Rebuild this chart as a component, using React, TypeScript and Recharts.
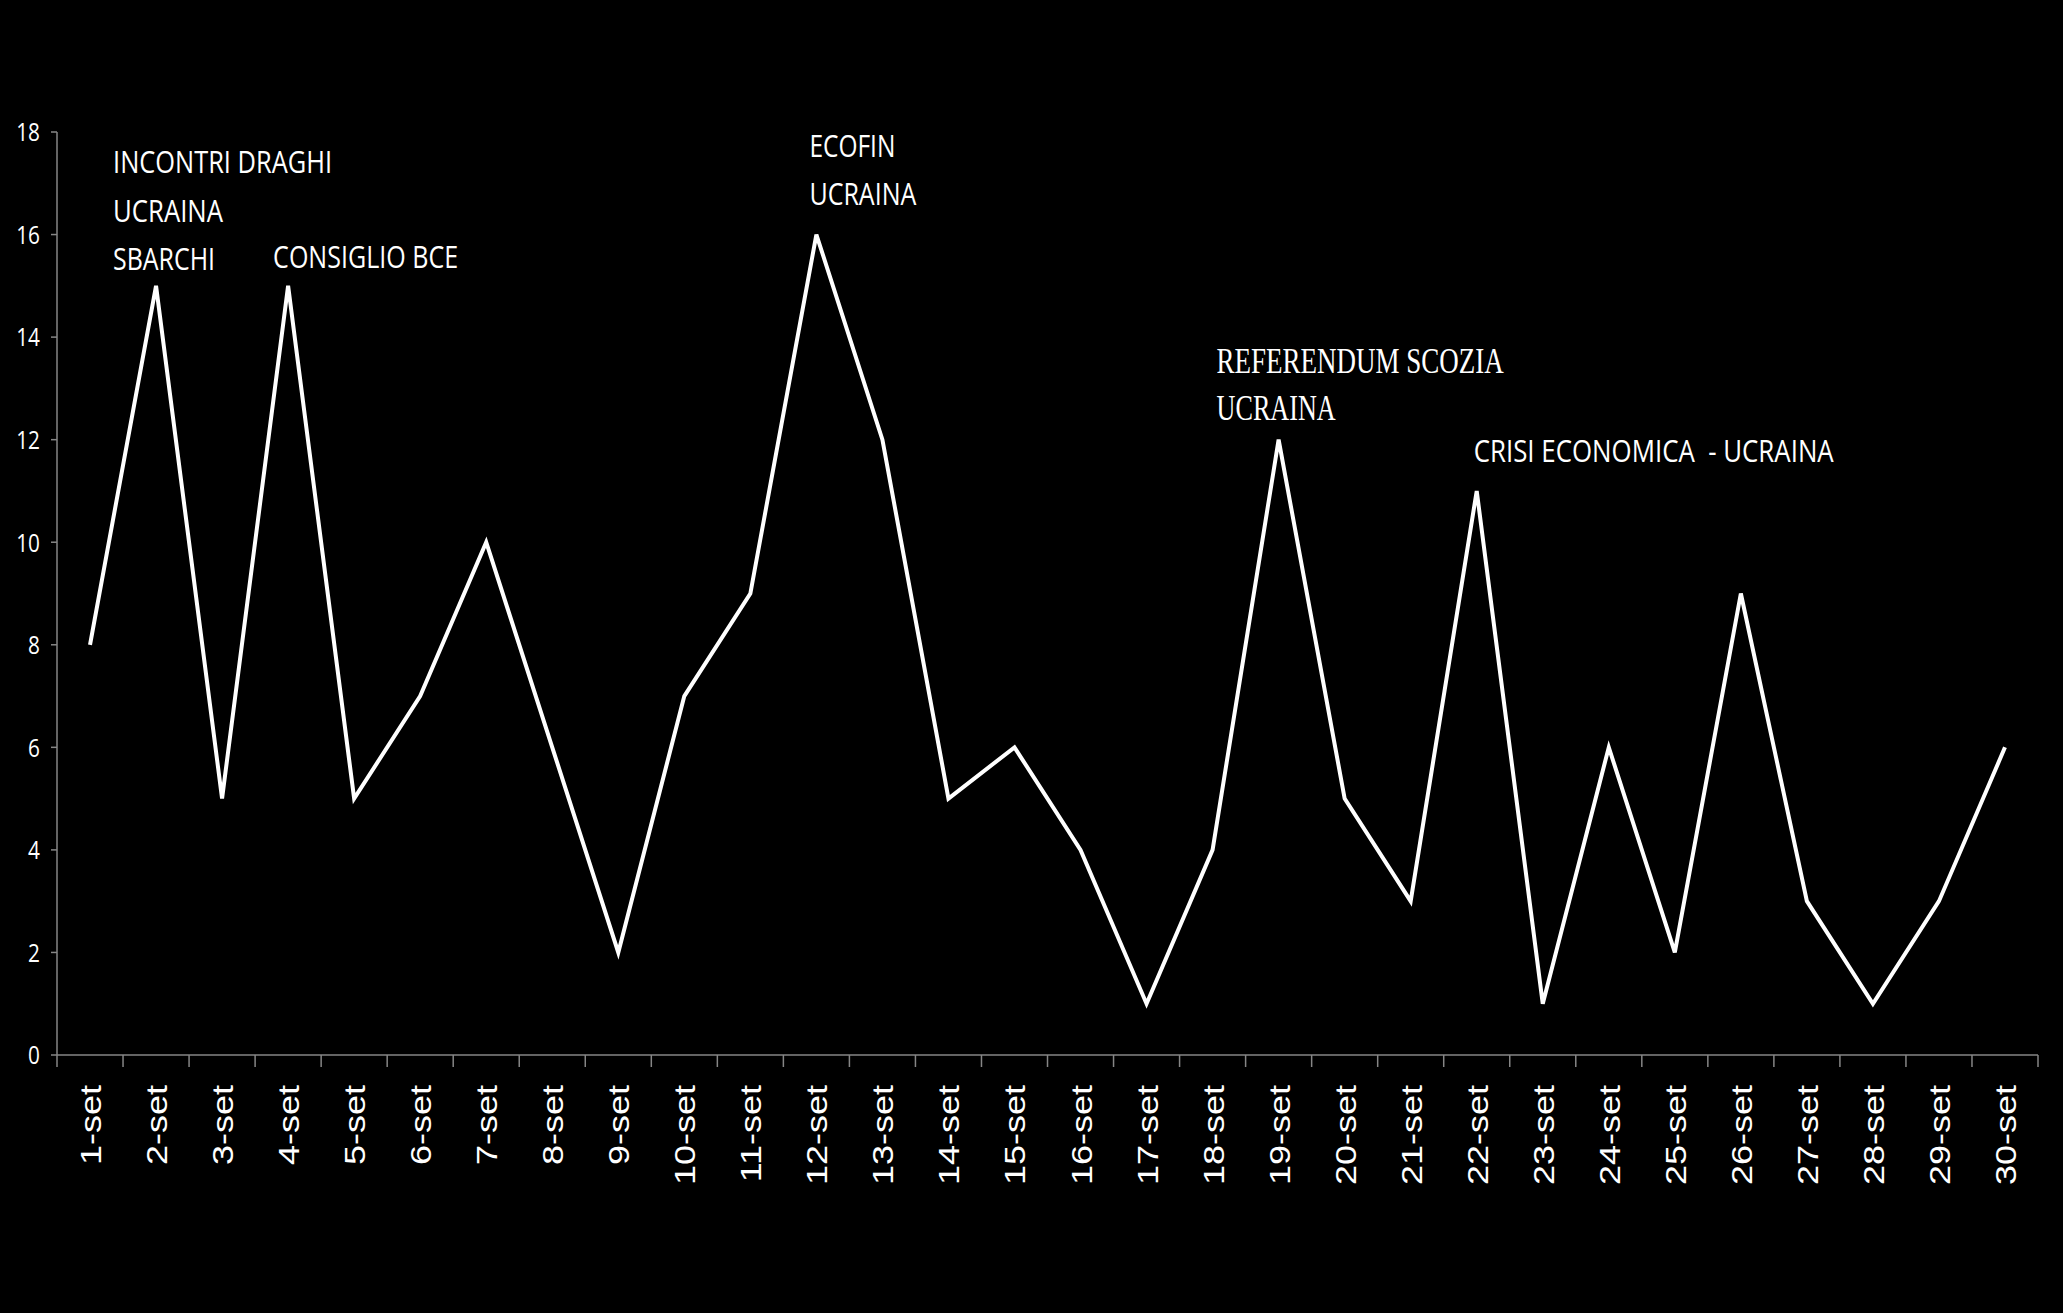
import { LineChart, Line, XAxis, YAxis, ReferenceDot } from "recharts";

const days = [
  "1-set", "2-set", "3-set", "4-set", "5-set", "6-set", "7-set", "8-set", "9-set", "10-set",
  "11-set", "12-set", "13-set", "14-set", "15-set", "16-set", "17-set", "18-set", "19-set", "20-set",
  "21-set", "22-set", "23-set", "24-set", "25-set", "26-set", "27-set", "28-set", "29-set", "30-set",
];
const values = [8, 15, 5, 15, 5, 7, 10, 6, 2, 7, 9, 16, 12, 5, 6, 4, 1, 4, 12, 5, 3, 11, 1, 6, 2, 9, 3, 1, 3, 6];
const yTicks = [0, 2, 4, 6, 8, 10, 12, 14, 16, 18];

const noteDays = ["2-set", "4-set", "12-set", "19-set", "22-set"];
const noteLines = [
  ["INCONTRI DRAGHI", "UCRAINA", "SBARCHI"],
  ["CONSIGLIO BCE"],
  ["ECOFIN", "UCRAINA"],
  ["REFERENDUM SCOZIA", "UCRAINA"],
  ["CRISI ECONOMICA  - UCRAINA"],
];

// layout of the notes relative to their point: dx, baseline dy per line, text widths
const noteLayout = [
  { dx: -43, dy: [-113, -64, -16], w: [219, 110, 102], serif: false },
  { dx: -15, dy: [-18], w: [185], serif: false },
  { dx: -7, dy: [-78, -30], w: [86, 107], serif: false },
  { dx: -62, dy: [-67, -20], w: [287, 119], serif: true },
  { dx: -3, dy: [-29], w: [360], serif: false },
];

const data = days.map((d, i) => ({ day: d, v: values[i] }));

const W = 2063;
const H = 1313;
const AXIS = "#868686";
const HALF = (2037.5 - 57) / days.length / 2;

function XTick(props: any) {
  const { x, y, payload, index } = props;
  const y0 = y - 8;
  return (
    <g>
      <line x1={x - HALF} x2={x - HALF} y1={y0} y2={y0 + 12} stroke={AXIS} strokeWidth={1.5} />
      {index === days.length - 1 && (
        <line x1={x + HALF} x2={x + HALF} y1={y0} y2={y0 + 12} stroke={AXIS} strokeWidth={1.5} />
      )}
      <text
        transform={`translate(${x + 11},${y0 + 30}) rotate(-90) scale(1.2,1)`}
        textAnchor="end"
        fill="#fff"
        fontFamily="'Liberation Sans', Arial, sans-serif"
        fontSize={30}
      >
        {payload.value}
      </text>
    </g>
  );
}

function YTick(props: any) {
  const { x, y, payload } = props;
  return (
    <text
      transform={`translate(${x},${y}) scale(0.8,1)`}
      textAnchor="end"
      dy="0.36em"
      fill="#fff"
      fontFamily="'Open Sans', sans-serif"
      fontSize={26}
    >
      {payload.value}
    </text>
  );
}

function noteLabel(k: number) {
  return (props: any) => {
    const vb = props.viewBox || {};
    const cx = vb.x + (vb.width || 0) / 2;
    const cy = vb.y + (vb.height || 0) / 2;
    const lay = noteLayout[k];
    return (
      <g>
        {noteLines[k].map((t, j) => (
          <text
            key={j}
            x={cx + lay.dx}
            y={cy + lay.dy[j]}
            fill="#fff"
            fontFamily={lay.serif ? "'Liberation Serif', serif" : "'Open Sans', sans-serif"}
            fontSize={lay.serif ? 36 : 31}
            textLength={lay.w[j]}
            lengthAdjust="spacingAndGlyphs"
            style={{ whiteSpace: "pre" }}
          >
            {t}
          </text>
        ))}
      </g>
    );
  };
}

export default function App() {
  return (
    <div style={{ position: "fixed", left: 0, top: 0, width: W, height: H, background: "#000" }}>
      <LineChart width={W} height={H} data={data} margin={{ top: 132, right: 25, left: 0, bottom: 108 }}>
        <XAxis
          dataKey="day"
          interval={0}
          height={150}
          padding={{ left: HALF, right: HALF }}
          tickLine={false}
          axisLine={{ stroke: AXIS, strokeWidth: 1.5 }}
          tick={<XTick />}
        />
        <YAxis
          width={57}
          domain={[0, 18]}
          ticks={yTicks}
          interval={0}
          tickSize={6}
          tickMargin={11}
          tickLine={{ stroke: AXIS, strokeWidth: 1.5 }}
          axisLine={{ stroke: AXIS, strokeWidth: 1.5 }}
          tick={<YTick />}
        />
        <Line
          type="linear"
          dataKey="v"
          stroke="#fff"
          strokeWidth={4}
          dot={false}
          isAnimationActive={false}
        />
        {noteDays.map((d, k) => (
          <ReferenceDot
            key={d}
            x={d}
            y={values[days.indexOf(d)]}
            r={0}
            fill="none"
            stroke="none"
            label={{ content: noteLabel(k) }}
          />
        ))}
      </LineChart>
    </div>
  );
}
